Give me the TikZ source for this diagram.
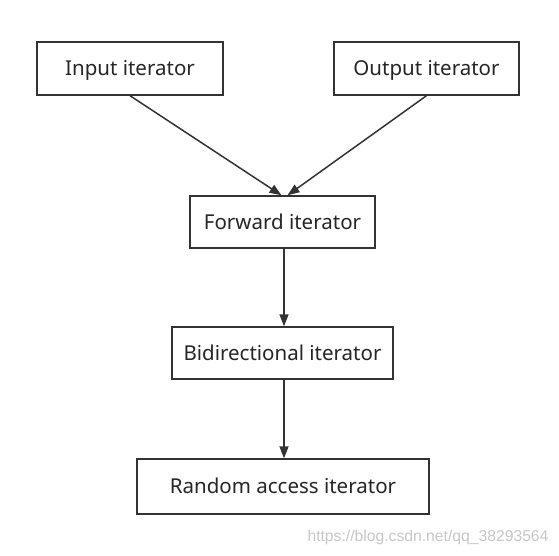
\documentclass[tikz,border=0pt]{standalone}
\usepackage{fontspec}
\setmainfont{Noto Sans}
\newfontfamily\markfont{Liberation Sans}
\usepackage{tikz}
\usetikzlibrary{positioning, calc, arrows.meta}

\tikzset{
    iterbox/.style={draw=black!80, line width=1.4pt, fill=white, inner sep=0pt,
        minimum height=53pt, text height=14.6pt, text depth=0pt,
        font=\fontsize{20.5}{24}\selectfont, text=black!85},
    link/.style={draw=black!80, line width=1.5pt, -{Triangle[length=12pt, width=9pt]}}
}

\begin{document}
\begin{tikzpicture}[x=1pt, y=-1pt]
    \useasboundingbox (0,0) rectangle (559,555);

    % the five iterator categories
    \node[iterbox, minimum width=186pt] (input) at (130,68.5) {Input iterator};
    \node[iterbox, minimum width=185pt] (output) at (426.5,68.5) {Output iterator};
    \node[iterbox, minimum width=185pt, minimum height=52pt] (forward) at (282.5,222) {Forward iterator};
    \node[iterbox, minimum width=221pt, minimum height=52pt] (bidir) at (282.5,353) {Bidirectional iterator};
    \node[iterbox, minimum width=292pt, minimum height=55pt] (random) at (283,486.5) {Random access iterator};

    % refinement arrows
    \draw[link] (input.south) -- ([xshift=-1pt]forward.north);
    \draw[link] (output.south) -- ([xshift=5pt]forward.north);
    \draw[link] ([xshift=1.5pt]forward.south) -- ([xshift=1.5pt]bidir.north);
    \draw[link] ([xshift=1.5pt]bidir.south) -- ([xshift=1pt]random.north);

    \node[text=black!22, font=\markfont\fontsize{15.7}{18}\selectfont] (mark) at (428,537) {https://blog.csdn.net/qq\_38293564};
\end{tikzpicture}
\end{document}
